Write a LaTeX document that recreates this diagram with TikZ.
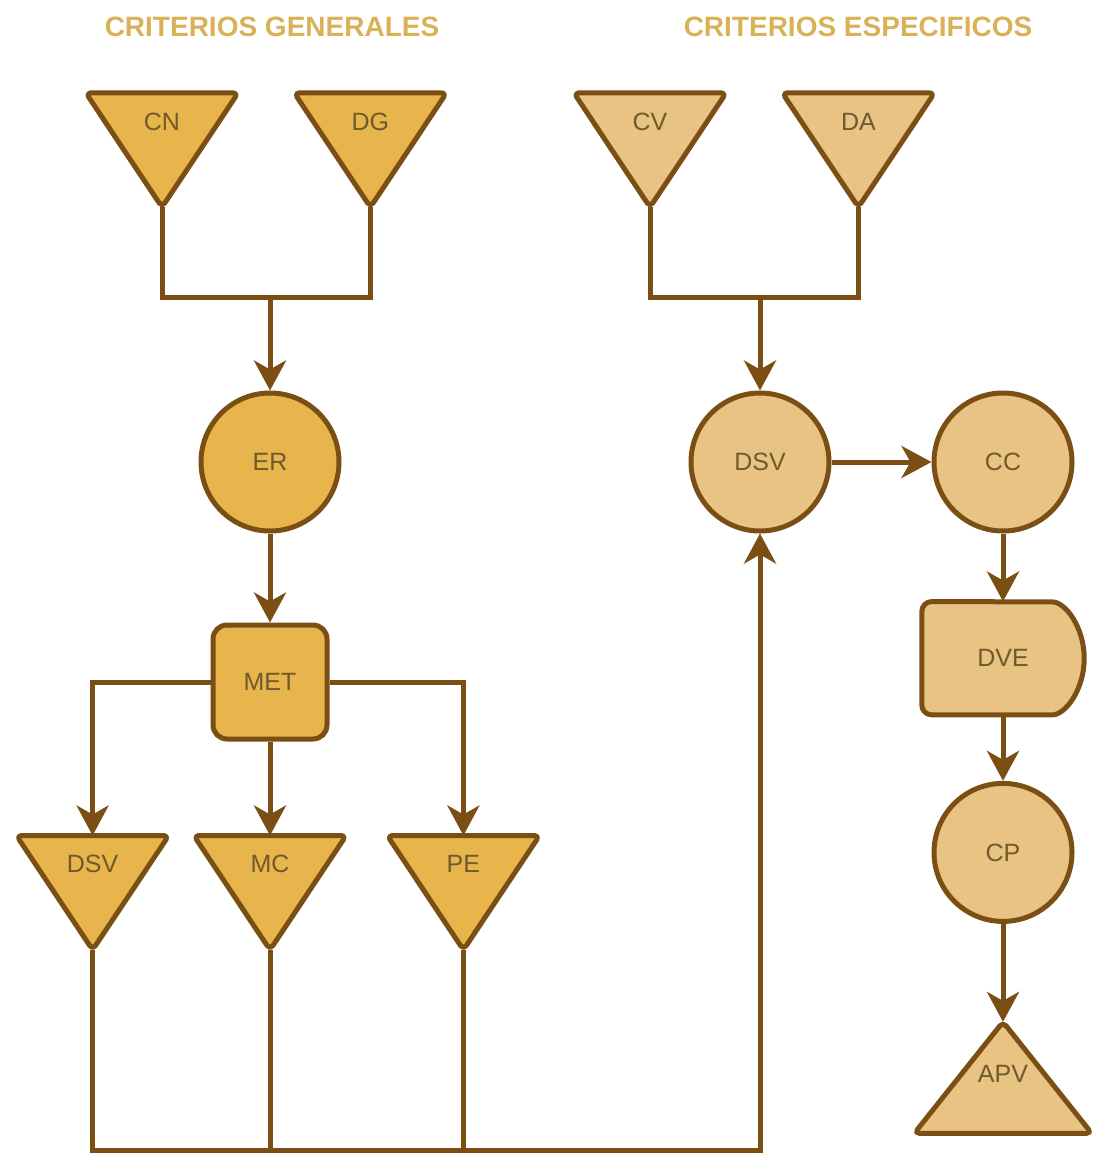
\documentclass[tikz,border=0pt]{standalone}
\usepackage{fontspec}
\setmainfont{Liberation Sans}
\usetikzlibrary{positioning,arrows.meta,backgrounds}

\definecolor{lnbrown}{HTML}{7B4F14}
\definecolor{genfill}{HTML}{E8B54C}
\definecolor{espfill}{HTML}{E8C383}
\definecolor{txtbrown}{HTML}{6E5A2C}
\definecolor{ttlgold}{HTML}{D9B257}

\begin{document}
\begin{tikzpicture}[
  x=1pt, y=-1pt,
  lbl/.style={text=txtbrown, font=\fontsize{25}{25}\selectfont},
  ttl/.style={text=ttlgold, font=\bfseries\fontsize{28}{28}\selectfont},
  tribox/.style={lbl, inner sep=0pt, minimum width=152pt, text height=37pt, text depth=77pt},
  rnd/.style={lbl, circle, draw=lnbrown, line width=5pt, minimum size=138pt, inner sep=0pt},
  conn/.style={draw=lnbrown, line width=5pt},
  arr/.style={conn, -{Stealth[length=30pt, width=32pt, inset=9pt]}},
  outl/.style={draw=lnbrown, line width=5pt, line join=round, rounded corners=5pt}
]
  \useasboundingbox (0,0) rectangle (1095,1162);

  \node[ttl] (tgen) at (272,27) {CRITERIOS GENERALES};
  \node[ttl] (tesp) at (858,27) {CRITERIOS ESPECIFICOS};

  \node[tribox] (cn) at (162,150) {CN};
  \node[tribox, right=56pt of cn] (dg) {DG};
  \node[tribox] (cv) at (650,150) {CV};
  \node[tribox, right=56pt of cv] (da) {DA};
  \coordinate (jgen) at (270,297);
  \coordinate (jesp) at (760,297);

  \node[rnd, fill=genfill] (er) at (270,462) {ER};
  \node[lbl, draw=lnbrown, line width=5pt, fill=genfill, rounded corners=14pt, minimum size=114pt, inner sep=0pt, below=89pt of er] (met) {MET};
  \node[tribox, below=94pt of met] (mc) {MC};
  \node[tribox, left=25pt of mc] (dsva) {DSV};
  \node[tribox, right=41pt of mc] (pe) {PE};

  \node[rnd, fill=espfill] (dsv) at (760,462) {DSV};
  \node[rnd, fill=espfill, right=100pt of dsv] (cc) {CC};
  \node[lbl, inner sep=0pt, minimum width=162pt, minimum height=113pt, below=68pt of cc] (dve) {DVE};
  \node[rnd, fill=espfill, below=66pt of dve] (cp) {CP};
  \node[lbl, inner sep=0pt, minimum width=177pt, text height=60pt, text depth=51pt, below=98pt of cp] (apv) {APV};
  \coordinate (bus) at (760,1150);

  \begin{scope}[on background layer]
    \foreach \t/\c in {cn/genfill, dg/genfill, dsva/genfill, mc/genfill, pe/genfill, cv/espfill, da/espfill}
      \draw[outl, fill=\c] (\t.north west) -- (\t.north east) -- (\t.south) -- cycle;
    \draw[outl, fill=espfill] (apv.south west) -- (apv.north) -- (apv.south east) -- cycle;
    \draw[outl, fill=espfill, rounded corners=10pt] ([xshift=-42pt]dve.south east) arc[start angle=-90, end angle=90, x radius=42pt, y radius=56.5pt] -- (dve.north west) -- (dve.south west) -- cycle;
  \end{scope}

  \draw[conn] (cn.south) |- (jgen) -| (dg.south);
  \draw[arr] (jgen) -- (er.north);
  \draw[conn] (cv.south) |- (jesp) -| (da.south);
  \draw[arr] (jesp) -- (dsv.north);
  \draw[arr] (er) -- (met);
  \draw[arr] (met.west) -| (dsva.north);
  \draw[arr] (met) -- (mc);
  \draw[arr] (met.east) -| (pe.north);
  \draw[arr] (dsv) -- (cc);
  \draw[arr] (cc) -- (dve);
  \draw[arr] (dve) -- (cp);
  \draw[arr] (cp) -- (apv.north);
  \draw[arr] (dsva.south) |- (bus) -- (dsv.south);
  \draw[conn] (mc.south) -- (mc.south |- bus);
  \draw[conn] (pe.south) -- (pe.south |- bus);
\end{tikzpicture}
\end{document}
